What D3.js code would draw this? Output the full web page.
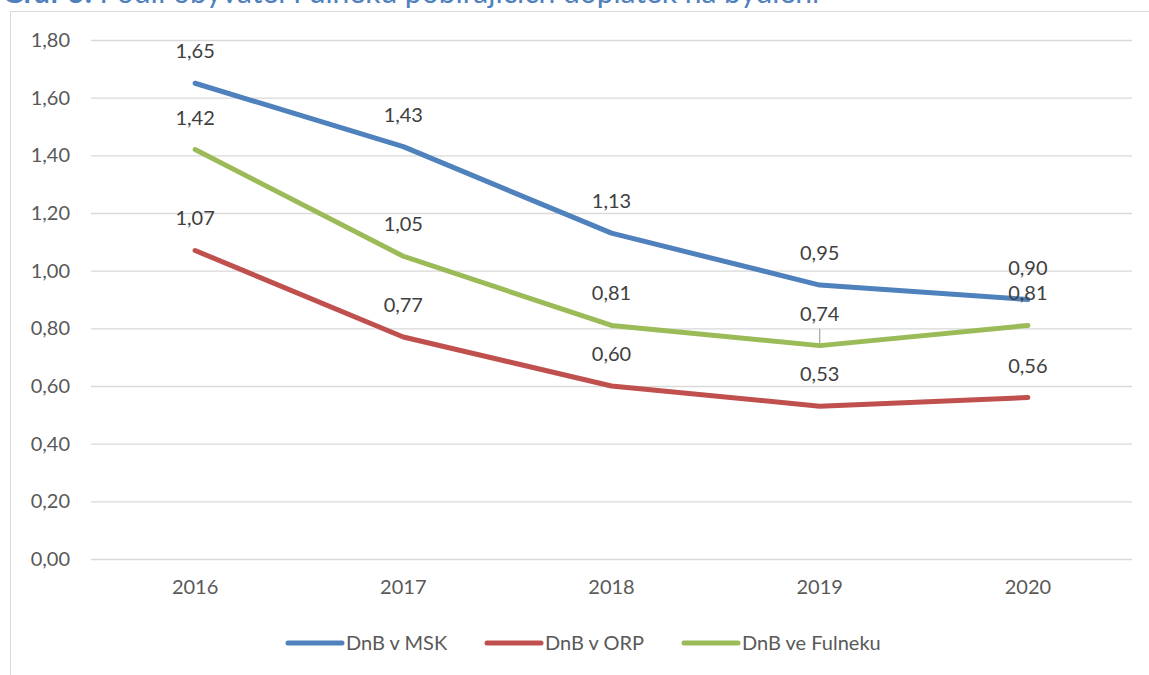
<!DOCTYPE html>
<html>
<head>
<meta charset="utf-8">
<script src="https://d3js.org/d3.v7.min.js"></script>
<style>
  body { margin: 0; background: #fff; }
  svg { display: block; font-family: Lato, "Open Sans", sans-serif; }
</style>
</head>
<body>
<div id="graph"></div>
<script>

// data
var years = ["2016", "2017", "2018", "2019", "2020"];
var msk = [1.65, 1.43, 1.13, 0.95, 0.90];
var orp = [1.07, 0.77, 0.60, 0.53, 0.56];
var fulnek = [1.42, 1.05, 0.81, 0.74, 0.81];
var seriesNames = ["DnB v MSK", "DnB v ORP", "DnB ve Fulneku"];
var yTicks = [0, 0.2, 0.4, 0.6, 0.8, 1.0, 1.2, 1.4, 1.6, 1.8];

var colors = ["#4F81BD", "#C0504D", "#9BBB59"];
var series = [msk, orp, fulnek];

var W = 1149, H = 675;
var margin = {top: 40, right: 17, bottom: 116, left: 91},
    width = W - margin.left - margin.right,
    height = H - margin.top - margin.bottom;

var fmt = function(v) { return d3.format(".2f")(v).replace(".", ","); };

var root = d3.select("#graph").append("svg")
  .attr("width", W)
  .attr("height", H);

// chart frame (partly outside the picture)
root.append("rect")
  .attr("x", 10.5).attr("y", 11.5)
  .attr("width", W + 20).attr("height", H + 20)
  .attr("fill", "none").attr("stroke", "#D9D9D9").attr("stroke-width", 1);

// title, cut off at the top like in the source
var title = root.append("text")
  .attr("x", 2).attr("y", 3)
  .attr("font-size", "30px")
  .attr("fill", "#4F81BD");
title.append("tspan").attr("font-weight", "bold").text("Graf 6: ");
title.append("tspan").text("Podíl obyvatel Fulneku pobírajících doplatek na bydlení");

var svg = root.append("g")
  .attr("transform", "translate(" + margin.left + "," + margin.top + ")");

var x = d3.scaleBand().domain(years).range([0, width]);
var y = d3.scaleLinear().domain([0, 1.8]).range([height, 0]);

// gridlines + y labels
var yAxis = svg.append("g")
  .call(d3.axisLeft(y).tickValues(yTicks).tickFormat(fmt).tickSize(-width).tickPadding(21));
yAxis.select(".domain").remove();
yAxis.selectAll("line").attr("stroke", "#D9D9D9").attr("stroke-width", 1.3);
yAxis.selectAll("text").attr("fill", "#595959").attr("font-size", "20px")
  .attr("font-family", "Lato, sans-serif");

// x labels
var xAxis = svg.append("g")
  .attr("transform", "translate(0," + height + ")")
  .call(d3.axisBottom(x).tickSize(0).tickPadding(21));
xAxis.select(".domain").remove();
xAxis.selectAll("text").attr("fill", "#595959").attr("font-size", "20px")
  .attr("font-family", "Lato, sans-serif");

var cx = function(i) { return x(years[i]) + x.bandwidth() / 2; };

var line = d3.line()
  .x(function(d, i) { return cx(i); })
  .y(function(d) { return y(d); });

// leader line for the 0,74 label
svg.append("line")
  .attr("x1", cx(3)).attr("x2", cx(3))
  .attr("y1", y(fulnek[3]) - 17).attr("y2", y(fulnek[3]))
  .attr("stroke", "#A6A6A6").attr("stroke-width", 1.2);

series.forEach(function(s, k) {
  svg.append("path")
    .datum(s)
    .attr("fill", "none")
    .attr("stroke", colors[k])
    .attr("stroke-width", 5)
    .attr("stroke-linejoin", "round")
    .attr("stroke-linecap", "round")
    .attr("d", line);
});

// data labels
series.forEach(function(s, k) {
  svg.append("g").selectAll("text")
    .data(s)
    .enter()
    .append("text")
      .attr("x", function(d, i) { return cx(i); })
      .attr("y", function(d) { return y(d) - 25; })
      .attr("text-anchor", "middle")
      .attr("font-size", "20px")
      .attr("fill", "#404040")
      .text(fmt);
});

// legend
var legendX = [288, 487, 684];
var legend = root.append("g");
seriesNames.forEach(function(n, k) {
  legend.append("line")
    .attr("x1", legendX[k]).attr("x2", legendX[k] + 54)
    .attr("y1", 643).attr("y2", 643)
    .attr("stroke", colors[k]).attr("stroke-width", 5)
    .attr("stroke-linecap", "round");
  legend.append("text")
    .attr("x", legendX[k] + 58).attr("y", 650)
    .attr("font-size", "20px")
    .attr("fill", "#595959")
    .text(n);
});

</script>
</body>
</html>
